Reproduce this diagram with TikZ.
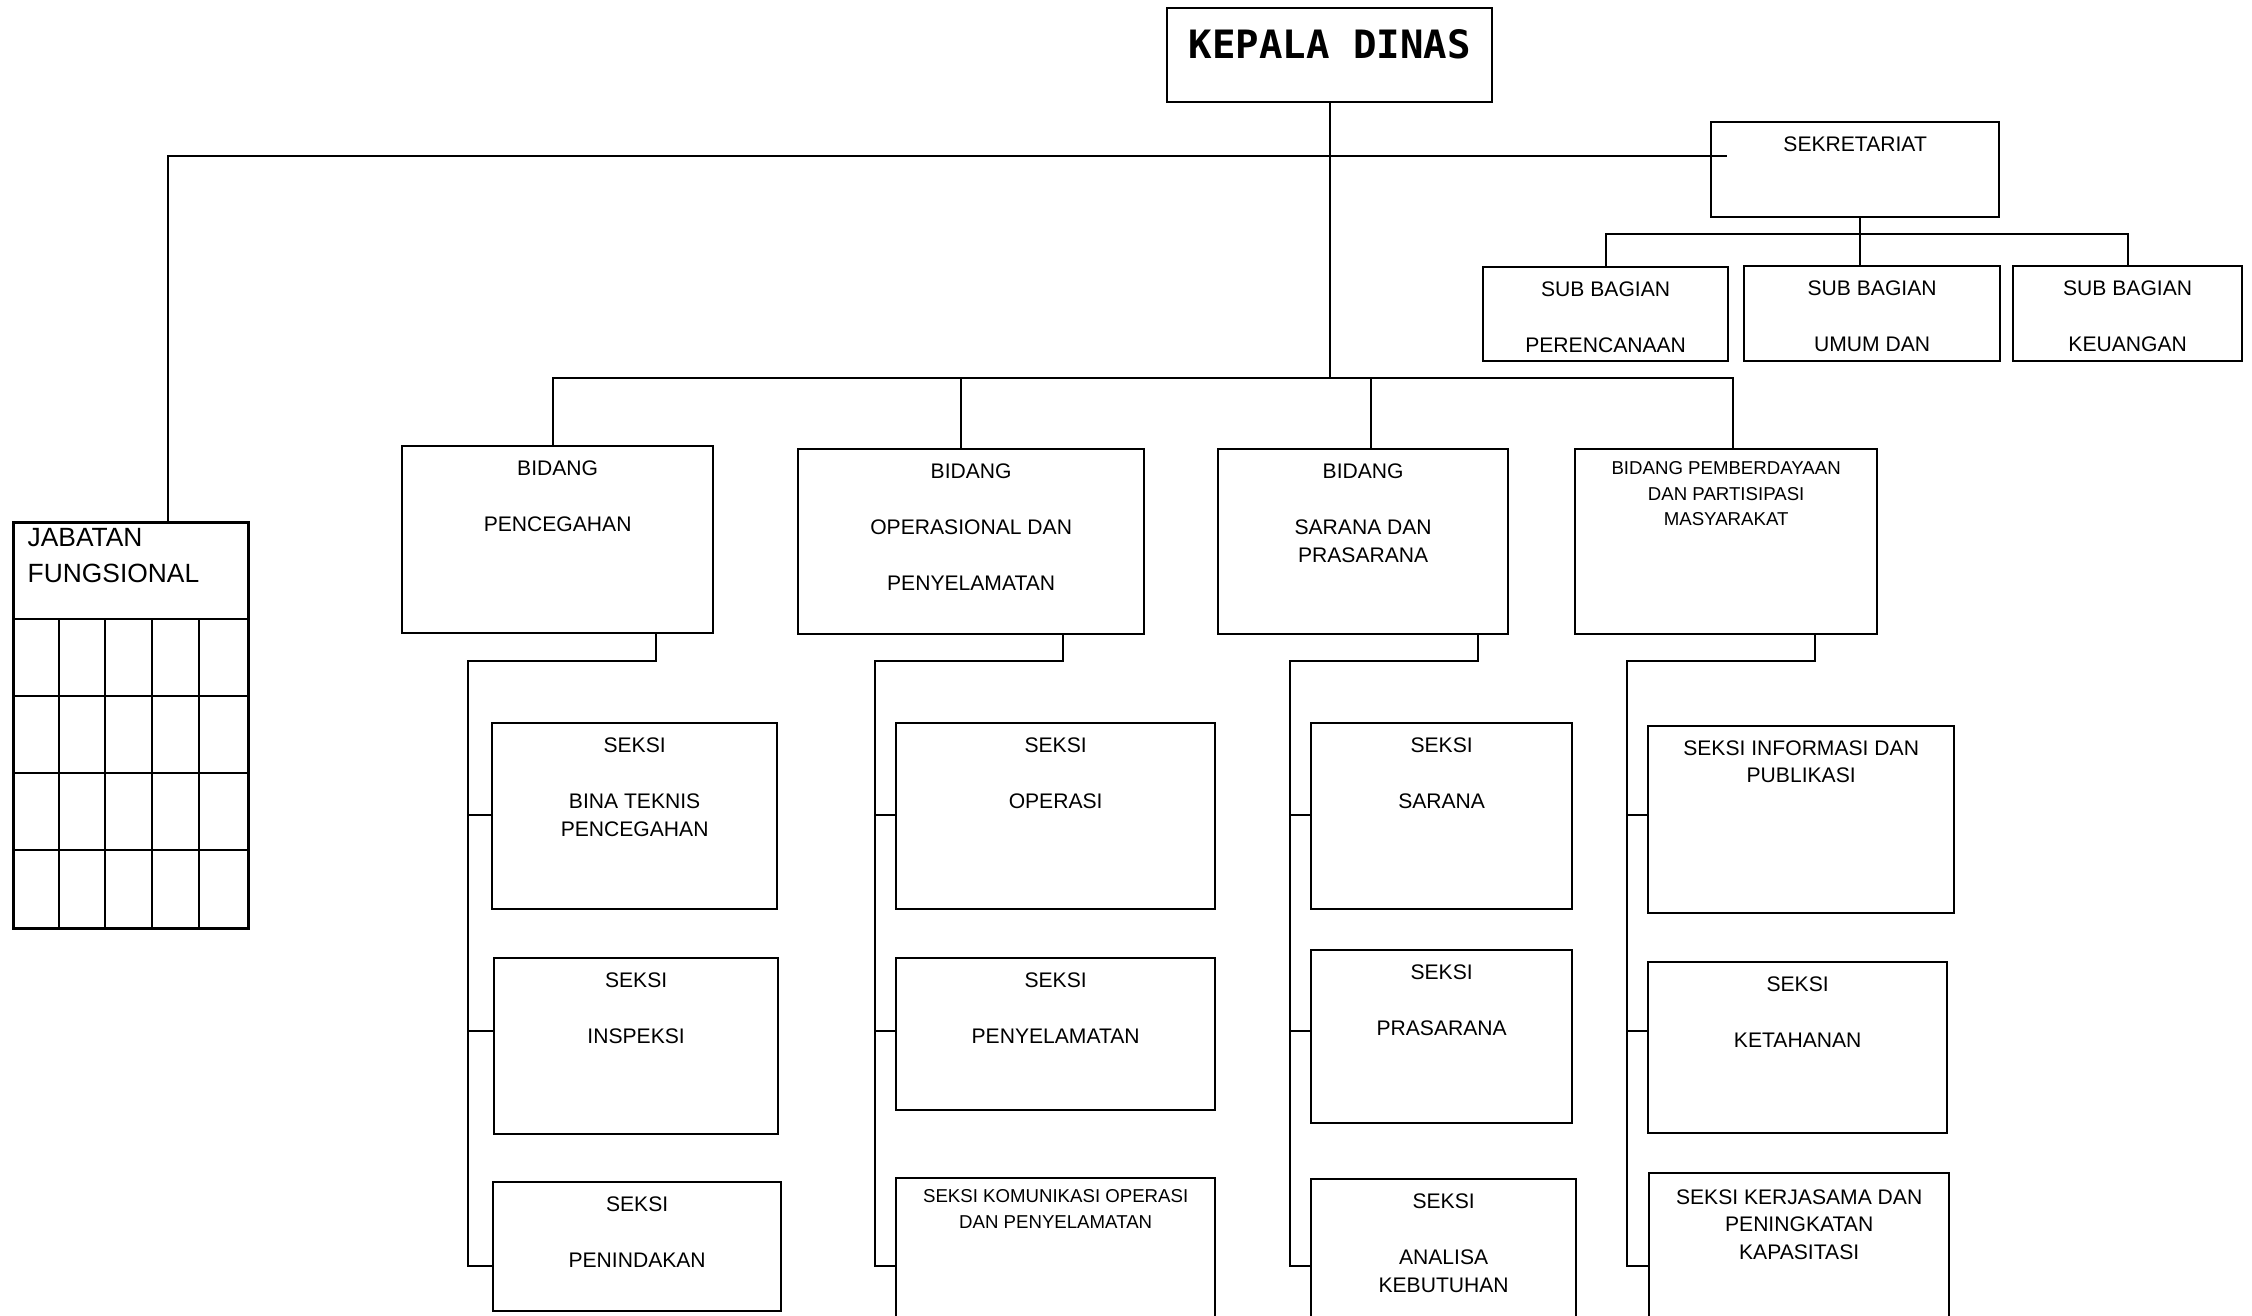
\documentclass[tikz,border=0pt]{standalone}
\usepackage{fontspec}
\setmainfont{Liberation Sans}
\setmonofont{DejaVu Sans Mono}
\usepackage{tikz}
\usetikzlibrary{positioning}

\begin{document}
\begin{tikzpicture}[x=0.01cm, y=-0.01cm,
  box/.style={draw, line width=0.6pt, anchor=north west, inner sep=0pt},
  conn/.style={line width=0.6pt},
  txt/.style={font=\fontsize{6}{7.8}\selectfont, align=center, inner sep=0pt},
  smalltxt/.style={font=\fontsize{5.3}{7.2}\selectfont, align=center, inner sep=0pt}]
\path[use as bounding box, clip] (0,0) rectangle (2252,1315);

% pimpinan dan sekretariat
\node[box, minimum width=3.25cm, minimum height=0.94cm] (kd) at (1166,7) {};
\node[inner sep=0pt, font=\fontsize{11.1}{13}\selectfont\ttfamily\bfseries, below=0.22cm of kd.north] (kdt) {KEPALA DINAS};
\node[box, minimum width=2.88cm, minimum height=0.95cm] (sek) at (1710,121) {};
\node[txt, below=0.15cm of sek.north] (sekt) {SEKRETARIAT};
\node[box, minimum width=2.45cm, minimum height=0.94cm] (sb1) at (1482,266) {};
\node[box, minimum width=2.56cm, minimum height=0.95cm] (sb2) at (1743,265) {};
\node[box, minimum width=2.29cm, minimum height=0.95cm] (sb3) at (2012,265) {};
\node[txt, below=0.15cm of sb1.north] (sb1t) {SUB BAGIAN\\[8.2pt]PERENCANAAN};
\node[txt, below=0.15cm of sb2.north] (sb2t) {SUB BAGIAN\\[8.2pt]UMUM DAN};
\node[txt, below=0.15cm of sb3.north] (sb3t) {SUB BAGIAN\\[8.2pt]KEUANGAN};

% jabatan fungsional
\node[box, line width=0.75pt, minimum width=2.35cm, minimum height=4.06cm] (jf) at (12,521) {};
\node[txt, align=left, font=\fontsize{7.5}{10}\selectfont, below right=0.07cm and 0.15cm of jf.north west] (jft) {JABATAN\\FUNGSIONAL};
\foreach \y in {619,696,773,850}
  \draw[line width=0.75pt] (jf.west |- 0,\y) -- (jf.east |- 0,\y);
\foreach \x in {59,105,152,199}
  \draw[line width=0.75pt] (\x,619) -- (\x,0 |- jf.south);

% bidang
\node[box, minimum width=3.11cm, minimum height=1.87cm] (b1) at (401,445) {};
\node[box, minimum width=3.46cm, minimum height=1.85cm] (b2) at (797,448) {};
\node[box, minimum width=2.90cm, minimum height=1.85cm] (b3) at (1217,448) {};
\node[box, minimum width=3.02cm, minimum height=1.85cm] (b4) at (1574,448) {};
\node[txt, below=0.15cm of b1.north] (b1t) {BIDANG\\[8.2pt]PENCEGAHAN};
\node[txt, below=0.15cm of b2.north] (b2t) {BIDANG\\[8.2pt]OPERASIONAL DAN\\[8.2pt]PENYELAMATAN};
\node[txt, below=0.15cm of b3.north] (b3t) {BIDANG\\[8.2pt]SARANA DAN\\PRASARANA};
\node[smalltxt, below=0.13cm of b4.north] (b4t) {BIDANG PEMBERDAYAAN\\DAN PARTISIPASI\\MASYARAKAT};

% seksi
\node[box, minimum width=2.85cm, minimum height=1.86cm] (s11) at (491,722) {};
\node[box, minimum width=2.84cm, minimum height=1.76cm] (s12) at (493,957) {};
\node[box, minimum width=2.88cm, minimum height=1.29cm] (s13) at (492,1181) {};
\node[box, minimum width=3.19cm, minimum height=1.86cm] (s21) at (895,722) {};
\node[box, minimum width=3.19cm, minimum height=1.52cm] (s22) at (895,957) {};
\node[box, minimum width=3.19cm, minimum height=2.00cm] (s23) at (895,1177) {};
\node[box, minimum width=2.61cm, minimum height=1.86cm] (s31) at (1310,722) {};
\node[box, minimum width=2.61cm, minimum height=1.73cm] (s32) at (1310,949) {};
\node[box, minimum width=2.65cm, minimum height=2.00cm] (s33) at (1310,1178) {};
\node[box, minimum width=3.06cm, minimum height=1.87cm] (s41) at (1647,725) {};
\node[box, minimum width=2.99cm, minimum height=1.71cm] (s42) at (1647,961) {};
\node[box, minimum width=3.00cm, minimum height=2.00cm] (s43) at (1648,1172) {};
\node[txt, below=0.15cm of s11.north] (s11t) {SEKSI\\[8.2pt]BINA TEKNIS\\PENCEGAHAN};
\node[txt, below=0.15cm of s12.north] (s12t) {SEKSI\\[8.2pt]INSPEKSI};
\node[txt, below=0.15cm of s13.north] (s13t) {SEKSI\\[8.2pt]PENINDAKAN};
\node[txt, below=0.15cm of s21.north] (s21t) {SEKSI\\[8.2pt]OPERASI};
\node[txt, below=0.15cm of s22.north] (s22t) {SEKSI\\[8.2pt]PENYELAMATAN};
\node[smalltxt, below=0.12cm of s23.north] (s23t) {SEKSI KOMUNIKASI OPERASI\\DAN PENYELAMATAN};
\node[txt, below=0.15cm of s31.north] (s31t) {SEKSI\\[8.2pt]SARANA};
\node[txt, below=0.15cm of s32.north] (s32t) {SEKSI\\[8.2pt]PRASARANA};
\node[txt, below=0.15cm of s33.north] (s33t) {SEKSI\\[8.2pt]ANALISA\\KEBUTUHAN};
\node[txt, below=0.15cm of s41.north] (s41t) {SEKSI INFORMASI DAN\\PUBLIKASI};
\node[txt, below=0.15cm of s42.north] (s42t) {SEKSI\\[8.2pt]KETAHANAN};
\node[txt, below=0.17cm of s43.north] (s43t) {SEKSI KERJASAMA DAN\\PENINGKATAN\\KAPASITASI};

% garis
\draw[conn] (kd.south) -- (kd.south |- 0,378);
\draw[conn] (168,0 |- jf.north) |- (sek.west |- 0,156) -- ++(17,0);
\draw[conn] (1860,0 |- sek.south) -- (1860,0 |- sb2.north);
\draw[conn] (sb1.north) |- (sb3.north |- 0,234) -- (sb3.north);
\draw[conn] (553,0 |- b1.north) |- (1733,378) -- (1733,0 |- b4.north);
\draw[conn] (961,378) -- (961,0 |- b2.north);
\draw[conn] (1371,378) -- (1371,0 |- b3.north);
\foreach \c/\dx/\sx in {1/656/468, 2/1063/875, 3/1478/1290, 4/1815/1627}{
  \draw[conn] (\dx,0 |- b\c.south) |- (\sx,661) |- (s\c3.west |- 0,1266);
  \draw[conn] (\sx,815) -- (s\c1.west |- 0,815);
  \draw[conn] (\sx,1031) -- (s\c2.west |- 0,1031);
}
\end{tikzpicture}
\end{document}
